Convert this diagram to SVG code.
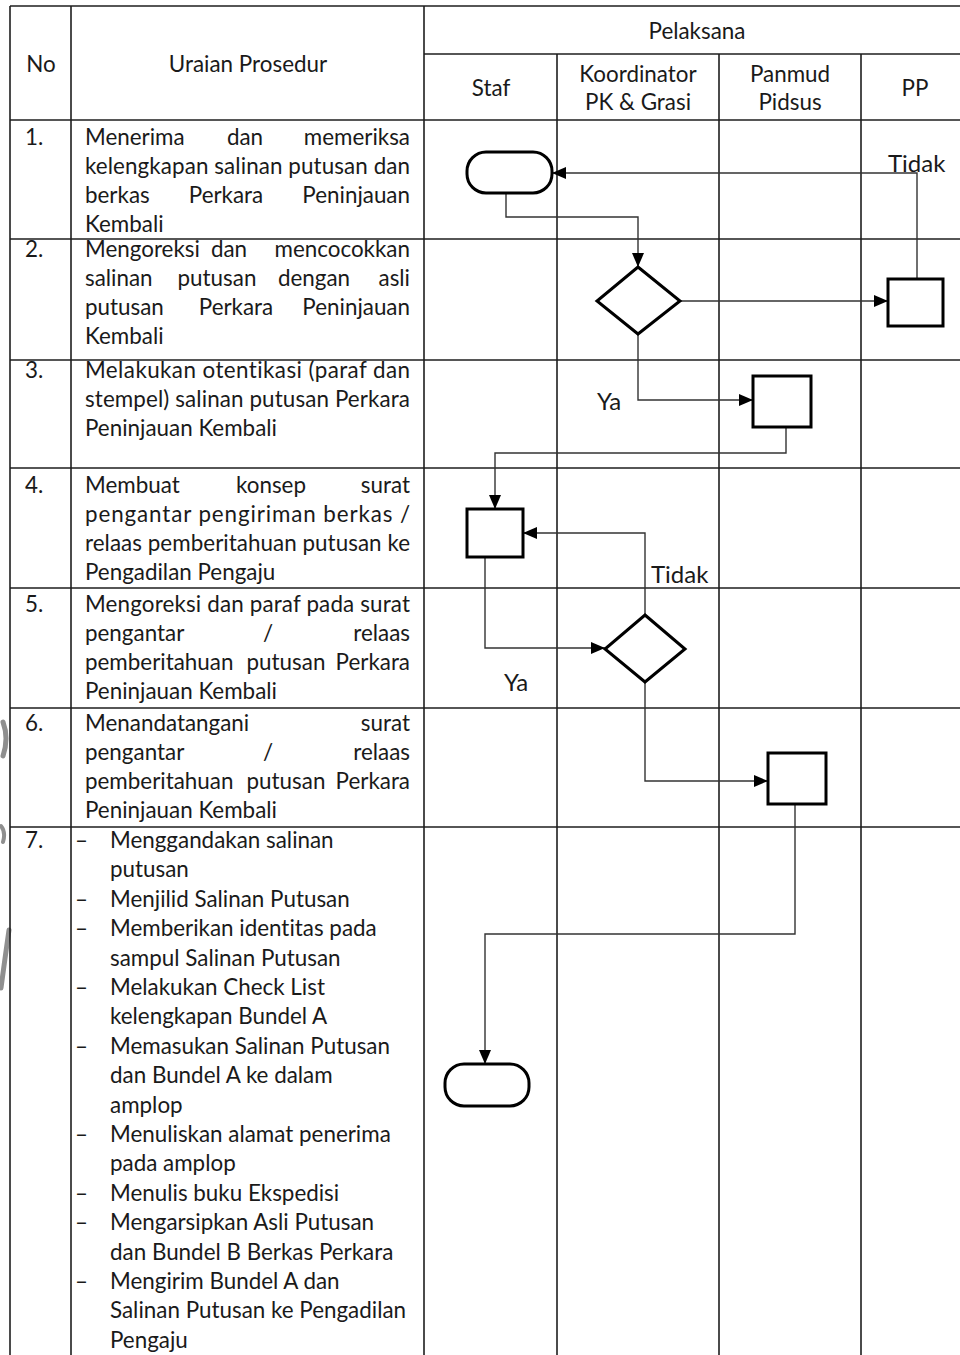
<svg xmlns="http://www.w3.org/2000/svg" width="960" height="1355" viewBox="0 0 960 1355">
  <defs>
    <style>
      .grid { stroke: #1e1e1e; stroke-width: 1.6; fill: none; }
      .shape { fill: #ffffff; stroke: #000000; stroke-width: 3; }
      .conn { fill: none; stroke: #333333; stroke-width: 1.4; }
      .t { font-family: Lato, "Liberation Sans", sans-serif; font-size: 22.4px; fill: #1a1a1a; font-variant-ligatures: none; font-feature-settings: "liga" 0, "clig" 0; }
      .c { text-anchor: middle; }
      .e { text-anchor: end; }
      .lbl { font-family: Lato, "Liberation Sans", sans-serif; font-size: 24px; fill: #1a1a1a; }
      .smudge { fill: none; stroke: #8f8f8f; stroke-linecap: round; }
    </style>
    <marker id="arrow" markerUnits="userSpaceOnUse" markerWidth="14" markerHeight="12" refX="14" refY="6" orient="auto">
      <path d="M0,0 L14,6 L0,12 z" fill="#000000"/>
    </marker>
  </defs>

  <rect width="960" height="1355" fill="#ffffff"/>

  <!-- faint marks at the left edge -->
  <g id="edge-marks">
    <path class="smudge" stroke-width="5" d="M3,722 Q9,738 3,756"/>
    <path class="smudge" stroke-width="4" d="M1,826 Q6,832 3,842"/>
    <path class="smudge" stroke-width="5" d="M9,930 Q5,958 1,988"/>
  </g>

  <!-- table grid -->
  <g id="grid">
    <line class="grid" x1="10" y1="6" x2="960" y2="6"/>
    <line class="grid" x1="424" y1="54" x2="960" y2="54"/>
    <line class="grid" x1="10" y1="120" x2="960" y2="120"/>
    <line class="grid" x1="10" y1="239" x2="960" y2="239"/>
    <line class="grid" x1="10" y1="360" x2="960" y2="360"/>
    <line class="grid" x1="10" y1="468" x2="960" y2="468"/>
    <line class="grid" x1="10" y1="588" x2="960" y2="588"/>
    <line class="grid" x1="10" y1="708" x2="960" y2="708"/>
    <line class="grid" x1="10" y1="827" x2="960" y2="827"/>
    <line class="grid" x1="10" y1="6" x2="10" y2="1355"/>
    <line class="grid" x1="71" y1="6" x2="71" y2="1355"/>
    <line class="grid" x1="424" y1="6" x2="424" y2="1355"/>
    <line class="grid" x1="557" y1="54" x2="557" y2="1355"/>
    <line class="grid" x1="719" y1="54" x2="719" y2="1355"/>
    <line class="grid" x1="861" y1="54" x2="861" y2="1355"/>
  </g>

  <!-- header -->
  <g id="header">
    <text class="t c" x="41" y="72">No</text>
    <text class="t c" x="248" y="72">Uraian Prosedur</text>
    <text class="t c" x="697" y="39">Pelaksana</text>
    <text class="t c" x="491" y="96">Staf</text>
    <text class="t c" x="638" y="82">Koordinator</text>
    <text class="t c" x="638" y="110">PK &amp; Grasi</text>
    <text class="t c" x="790" y="82">Panmud</text>
    <text class="t c" x="790" y="110">Pidsus</text>
    <text class="t c" x="915" y="96">PP</text>
  </g>

  <!-- procedure descriptions -->
  <g id="procedures">
    <text class="t" x="25" y="145">1.</text>
    <text class="t" x="85" y="145">Menerima</text>
    <text class="t c" x="245" y="145">dan</text>
    <text class="t e" x="410" y="145">memeriksa</text>
    <text class="t" x="85" y="174" textLength="325" lengthAdjust="spacing">kelengkapan salinan putusan dan</text>
    <text class="t" x="85" y="203">berkas</text>
    <text class="t c" x="226" y="203">Perkara</text>
    <text class="t e" x="410" y="203">Peninjauan</text>
    <text class="t" x="85" y="232">Kembali</text>

    <text class="t" x="25" y="257">2.</text>
    <text class="t" x="85" y="257">Mengoreksi</text>
    <text class="t c" x="229" y="257">dan</text>
    <text class="t e" x="410" y="257">mencocokkan</text>
    <text class="t" x="85" y="286">salinan</text>
    <text class="t c" x="217" y="286">putusan</text>
    <text class="t c" x="314" y="286">dengan</text>
    <text class="t e" x="410" y="286">asli</text>
    <text class="t" x="85" y="315">putusan</text>
    <text class="t c" x="236" y="315">Perkara</text>
    <text class="t e" x="410" y="315">Peninjauan</text>
    <text class="t" x="85" y="344">Kembali</text>

    <text class="t" x="25" y="378">3.</text>
    <text class="t" x="85" y="378" textLength="325" lengthAdjust="spacing">Melakukan otentikasi (paraf dan</text>
    <text class="t" x="85" y="407" textLength="325" lengthAdjust="spacing">stempel) salinan putusan Perkara</text>
    <text class="t" x="85" y="436">Peninjauan Kembali</text>

    <text class="t" x="25" y="493">4.</text>
    <text class="t" x="85" y="493">Membuat</text>
    <text class="t c" x="271" y="493">konsep</text>
    <text class="t e" x="410" y="493">surat</text>
    <text class="t" x="85" y="522" textLength="325" lengthAdjust="spacing">pengantar pengiriman berkas /</text>
    <text class="t" x="85" y="551" textLength="325" lengthAdjust="spacing">relaas pemberitahuan putusan ke</text>
    <text class="t" x="85" y="580">Pengadilan Pengaju</text>

    <text class="t" x="25" y="612">5.</text>
    <text class="t" x="85" y="612" textLength="325" lengthAdjust="spacing">Mengoreksi dan paraf pada surat</text>
    <text class="t" x="85" y="641">pengantar</text>
    <text class="t c" x="268" y="641">/</text>
    <text class="t e" x="410" y="641">relaas</text>
    <text class="t" x="85" y="670">pemberitahuan</text>
    <text class="t c" x="286" y="670">putusan</text>
    <text class="t e" x="410" y="670">Perkara</text>
    <text class="t" x="85" y="699">Peninjauan Kembali</text>

    <text class="t" x="25" y="731">6.</text>
    <text class="t" x="85" y="731">Menandatangani</text>
    <text class="t e" x="410" y="731">surat</text>
    <text class="t" x="85" y="760">pengantar</text>
    <text class="t c" x="268" y="760">/</text>
    <text class="t e" x="410" y="760">relaas</text>
    <text class="t" x="85" y="789">pemberitahuan</text>
    <text class="t c" x="286" y="789">putusan</text>
    <text class="t e" x="410" y="789">Perkara</text>
    <text class="t" x="85" y="818">Peninjauan Kembali</text>

    <text class="t" x="25" y="848">7.</text>
    <text class="t" x="75" y="848">–</text>
    <text class="t" x="110" y="848">Menggandakan salinan</text>
    <text class="t" x="110" y="877.4">putusan</text>
    <text class="t" x="75" y="906.8">–</text>
    <text class="t" x="110" y="906.8">Menjilid Salinan Putusan</text>
    <text class="t" x="75" y="936.2">–</text>
    <text class="t" x="110" y="936.2">Memberikan identitas pada</text>
    <text class="t" x="110" y="965.6">sampul Salinan Putusan</text>
    <text class="t" x="75" y="995">–</text>
    <text class="t" x="110" y="995">Melakukan Check List</text>
    <text class="t" x="110" y="1024.4">kelengkapan Bundel A</text>
    <text class="t" x="75" y="1053.8">–</text>
    <text class="t" x="110" y="1053.8">Memasukan Salinan Putusan</text>
    <text class="t" x="110" y="1083.2">dan Bundel A ke dalam</text>
    <text class="t" x="110" y="1112.6">amplop</text>
    <text class="t" x="75" y="1142">–</text>
    <text class="t" x="110" y="1142">Menuliskan alamat penerima</text>
    <text class="t" x="110" y="1171.4">pada amplop</text>
    <text class="t" x="75" y="1200.8">–</text>
    <text class="t" x="110" y="1200.8">Menulis buku Ekspedisi</text>
    <text class="t" x="75" y="1230.2">–</text>
    <text class="t" x="110" y="1230.2">Mengarsipkan Asli Putusan</text>
    <text class="t" x="110" y="1259.6">dan Bundel B Berkas Perkara</text>
    <text class="t" x="75" y="1289">–</text>
    <text class="t" x="110" y="1289">Mengirim Bundel A dan</text>
    <text class="t" x="110" y="1318.4">Salinan Putusan ke Pengadilan</text>
    <text class="t" x="110" y="1347.8">Pengaju</text>
  </g>

  <!-- connectors -->
  <g id="connectors">
    <path class="conn" d="M506,193 V217 H638 V267" marker-end="url(#arrow)"/>
    <path class="conn" d="M680,301 H888" marker-end="url(#arrow)"/>
    <path class="conn" d="M917,279 V173 H552" marker-end="url(#arrow)"/>
    <path class="conn" d="M638,334 V400 H753" marker-end="url(#arrow)"/>
    <path class="conn" d="M786,427 V453 H495 V509" marker-end="url(#arrow)"/>
    <path class="conn" d="M645,615 V533 H523" marker-end="url(#arrow)"/>
    <path class="conn" d="M485,557 V648 H605" marker-end="url(#arrow)"/>
    <path class="conn" d="M645,682 V781 H768" marker-end="url(#arrow)"/>
    <path class="conn" d="M795,804 V934 H485 V1064" marker-end="url(#arrow)"/>
    <text class="lbl" x="888" y="172">Tidak</text>
    <text class="lbl" x="597" y="410">Ya</text>
    <text class="lbl" x="651" y="583">Tidak</text>
    <text class="lbl" x="504" y="691">Ya</text>
  </g>

  <!-- flow nodes -->
  <g id="start">
    <rect class="shape" x="467" y="152" width="85" height="41" rx="19" ry="19" stroke-width="2.6"/>
  </g>
  <g id="check-copy">
    <polygon class="shape" points="638,267 680,301 638,334 597,301"/>
  </g>
  <g id="pp-task">
    <rect class="shape" x="888" y="279" width="55" height="47"/>
  </g>
  <g id="authenticate">
    <rect class="shape" x="753" y="376" width="58" height="51"/>
  </g>
  <g id="draft-letter">
    <rect class="shape" x="467" y="509" width="56" height="48"/>
  </g>
  <g id="check-letter">
    <polygon class="shape" points="645,615 685,649 645,682 605,649"/>
  </g>
  <g id="sign-letter">
    <rect class="shape" x="768" y="753" width="58" height="51"/>
  </g>
  <g id="end">
    <rect class="shape" x="445" y="1064" width="84" height="42" rx="19" ry="19" stroke-width="2.6"/>
  </g>
</svg>
